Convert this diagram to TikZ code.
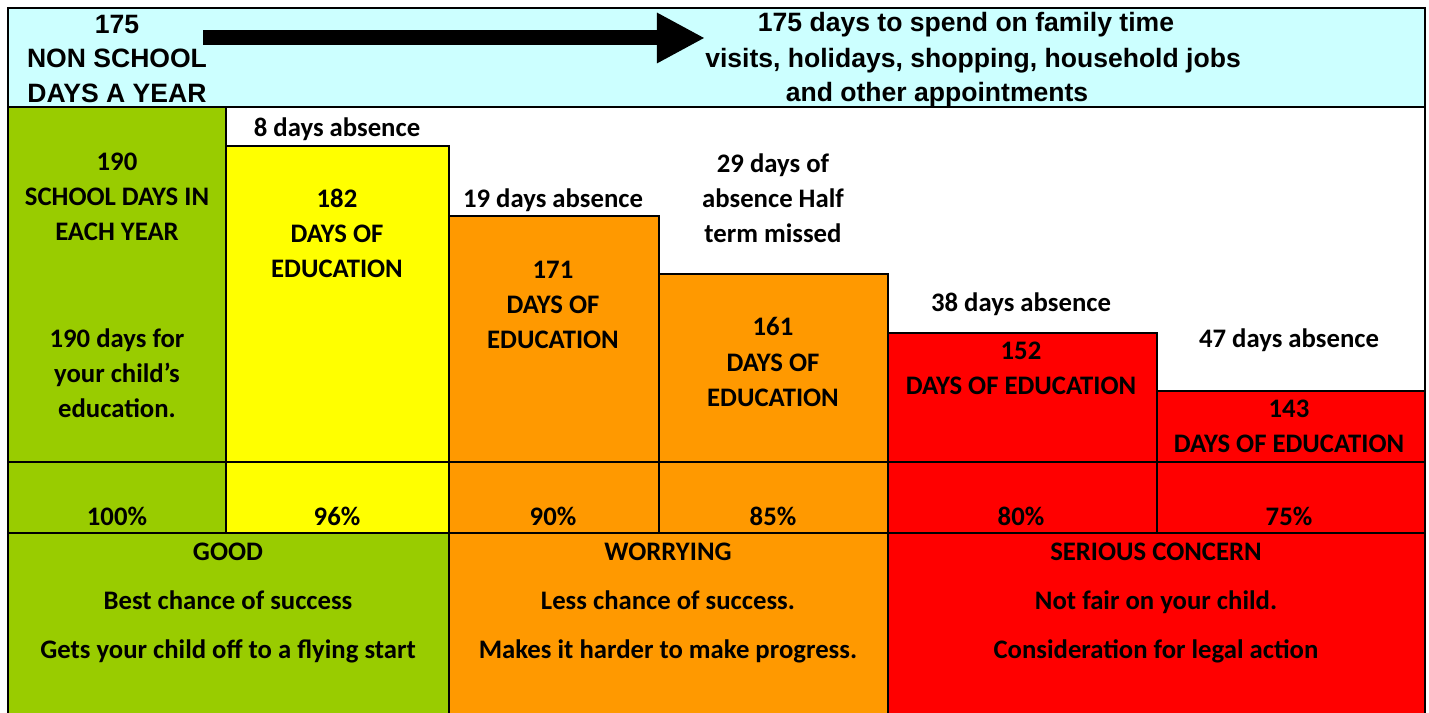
\documentclass[tikz,border=0pt]{standalone}
\usepackage{fontspec}
\setmainfont{Carlito}
\newfontfamily\arialfont{Liberation Sans}
\usetikzlibrary{arrows.meta}
\definecolor{bandcyan}{HTML}{CCFFFF}
\definecolor{goodgreen}{HTML}{99CC00}
\definecolor{warnyellow}{HTML}{FFFF00}
\definecolor{worryorange}{HTML}{FF9900}
\definecolor{concernred}{HTML}{FF0000}
\tikzset{
  cell/.style={draw=black, line width=0.026cm},
  lbl/.style={align=center, inner sep=0pt, font=\fontsize{7.6}{9.96}\selectfont\bfseries},
  toplbl/.style={align=center, inner sep=0pt, font=\arialfont\fontsize{7.55}{9.7}\selectfont\bfseries},
  verdict/.style={align=center, inner sep=0pt, font=\fontsize{7.6}{13.9}\selectfont\bfseries},
}

\begin{document}
\begin{tikzpicture}[x=0.01cm,y=-0.01cm]
        \useasboundingbox (0,0) rectangle (1429,713);
        \fill[white] (0,0) rectangle (1429,713);
        % frame and top band
        \draw[cell] (8,107) -- (8,716);
        \draw[cell] (1425,107) -- (1425,716);
        \draw[cell,fill=bandcyan] (8,8) rectangle (1425,107);
        % columns
        \draw[cell,fill=goodgreen] (8,107) rectangle (226,533);
        \draw[cell,fill=warnyellow] (226,146) rectangle (449,533);
        \draw[cell,fill=worryorange] (449,216) rectangle (659,533);
        \draw[cell,fill=worryorange] (659,274) rectangle (888,533);
        \draw[cell,fill=concernred] (888,333) rectangle (1157,533);
        \draw[cell,fill=concernred] (1157,391) rectangle (1425,533);
        \draw[cell] (8,462) -- (1425,462);
        % verdict row
        \draw[cell,fill=goodgreen] (8,533) rectangle (449,716);
        \draw[cell,fill=worryorange] (449,533) rectangle (888,716);
        \draw[cell,fill=concernred] (888,533) rectangle (1425,716);
        % top band
        \node[toplbl] (nonschool) at (117,59) {175\\NON SCHOOL\\DAYS A YEAR};
        \node[toplbl] (famA) at (966,25) {175 days to spend on family time};
        \node[toplbl] (famB) at (973,61) {visits, holidays, shopping, household jobs};
        \node[toplbl] (famC) at (937,95) {and other appointments};
        \coordinate (arrS) at (203,38);
        \coordinate (arrE) at (705,38);
        \draw[line width=0.15cm,-{Triangle[length=0.48cm,width=0.47cm]}] (arrS) -- (arrE);
        % absences
        \node[lbl] (absA) at (337,129) {8 days absence};
        \node[lbl] (absB) at (553,200) {19 days absence};
        \node[lbl] (absC) at (773,198) {29 days of\\absence Half\\term missed};
        \node[lbl] (absD) at (1021,304) {38 days absence};
        \node[lbl] (absE) at (1289,340) {47 days absence};
        % days of education
        \node[lbl] (eduA) at (117,197) {190\\SCHOOL DAYS IN\\EACH YEAR};
        \node[lbl] (eduA2) at (117,373) {190 days for\\your child’s\\education.};
        \node[lbl] (eduB) at (337,233) {182\\DAYS OF\\EDUCATION};
        \node[lbl] (eduC) at (553,305) {171\\DAYS OF\\EDUCATION};
        \node[lbl] (eduD) at (773,362) {161\\DAYS OF\\EDUCATION};
        \node[lbl] (eduE) at (1021,368) {152\\DAYS OF EDUCATION};
        \node[lbl] (eduF) at (1289,426) {143\\DAYS OF EDUCATION};
        % percentages
        \node[lbl] (pcA) at (117,516) {100\%};
        \node[lbl] (pcB) at (337,516) {96\%};
        \node[lbl] (pcC) at (553,516) {90\%};
        \node[lbl] (pcD) at (773,516) {85\%};
        \node[lbl] (pcE) at (1021,516) {80\%};
        \node[lbl] (pcF) at (1289,516) {75\%};
        % verdicts
        \node[verdict] (good) at (228,603) {GOOD\\Best chance of success\\Gets your child off to a flying start};
        \node[verdict] (worry) at (668,603) {WORRYING\\Less chance of success.\\Makes it harder to make progress.};
        \node[verdict] (serious) at (1156,603) {SERIOUS CONCERN\\Not fair on your child.\\Consideration for legal action};
\end{tikzpicture}
\end{document}
